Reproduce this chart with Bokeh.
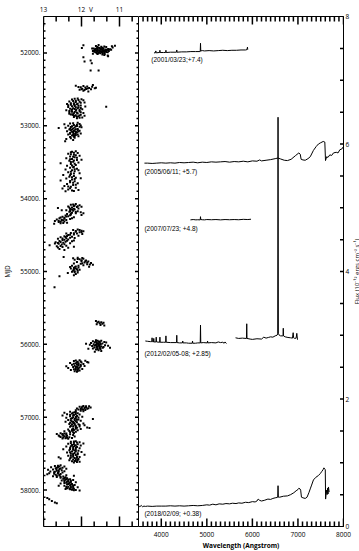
import math
import numpy as np
from bokeh.plotting import figure
from bokeh.models import Range1d, LinearAxis, FixedTicker
from bokeh.layouts import row
from bokeh.embed import file_html
from bokeh.resources import INLINE
from bokeh.core.properties import value

# ---------------- light curve (V magnitude vs MJD), by observing season ----------------
season_2001 = [(51890, 11.55), (51895, 11.95), (51900, 11.12), (51905, 11.62), (51910, 11.20), (51915, 11.48),
               (51920, 11.35), (51925, 11.18), (51928, 11.55), (51932, 11.99), (51935, 11.42), (51938, 11.72),
               (51940, 11.68), (51942, 11.49), (51945, 11.30), (51948, 11.25), (51950, 11.50), (51955, 11.58),
               (51958, 11.22), (51960, 11.45), (51962, 11.38), (51965, 11.57), (51968, 11.62), (51972, 11.52),
               (51975, 11.28), (51980, 11.47), (51985, 11.66), (51987, 11.35), (51990, 11.55), (51995, 11.40),
               (52000, 11.60), (52005, 11.50), (52010, 11.70), (52014, 11.39), (52015, 11.58), (52020, 11.45),
               (52030, 11.40), (52037, 11.31), (52045, 11.30), (52059, 11.95), (52104, 11.76), (52118, 11.92),
               (52141, 11.73), (52240, 11.76), (52242, 11.55),
               (51933, 11.52), (51937, 11.60), (51943, 11.58), (51947, 11.44), (51952, 11.36), (51953, 11.65),
               (51957, 11.48), (51963, 11.53), (51966, 11.42), (51970, 11.67), (51973, 11.41), (51977, 11.59),
               (51978, 11.37), (51983, 11.51), (51988, 11.46), (51992, 11.63), (51997, 11.54), (52002, 11.44),
               (52008, 11.57), (51945, 11.63), (51960, 11.33), (51975, 11.70), (51990, 11.31), (51930, 11.46),
               (51918, 11.58), (51912, 11.40)]
season_2002 = [(52440, 11.70), (52450, 12.15), (52455, 11.95), (52460, 11.85), (52465, 11.72), (52468, 12.08),
               (52470, 12.02), (52475, 11.90), (52478, 11.62), (52480, 11.80), (52485, 11.65), (52488, 11.84),
               (52490, 11.98), (52495, 11.88), (52498, 12.00), (52500, 11.75), (52505, 12.05), (52510, 11.92),
               (52520, 11.95), (52530, 11.82),
               (52625, 12.10), (52635, 12.00), (52640, 12.25), (52650, 11.95), (52655, 12.15), (52665, 12.32),
               (52670, 12.05), (52680, 11.92), (52690, 12.20), (52692, 12.28), (52700, 12.38), (52703, 12.20),
               (52705, 12.12), (52712, 12.28), (52720, 12.02), (52728, 12.18), (52735, 11.90), (52738, 11.35),
               (52742, 12.35), (52750, 12.08), (52758, 12.22), (52760, 12.10), (52765, 12.30), (52772, 11.98),
               (52780, 12.14), (52788, 12.40), (52795, 12.26), (52802, 12.05), (52810, 12.18), (52818, 12.32),
               (52820, 12.12), (52825, 11.95), (52832, 12.10), (52840, 12.24), (52845, 12.28), (52848, 12.02),
               (52855, 12.15), (52862, 11.92), (52870, 12.08), (52878, 12.20), (52885, 11.98), (52895, 12.12),
               (52630, 12.18), (52645, 12.08), (52660, 12.22), (52675, 12.15), (52685, 12.02), (52698, 12.10),
               (52710, 12.18), (52718, 12.35), (52725, 12.08), (52732, 12.25), (52745, 12.15), (52755, 12.02),
               (52768, 12.18), (52775, 12.25), (52785, 12.05), (52792, 12.15), (52798, 12.32), (52808, 12.25),
               (52815, 12.02), (52828, 12.20), (52836, 12.32), (52852, 12.22), (52858, 12.05), (52866, 12.18),
               (52875, 12.12), (52890, 12.05)]
season_2003 = [(52960, 12.10), (52968, 12.30), (52975, 12.05), (52980, 12.45), (52990, 12.20), (52995, 12.02),
               (53000, 12.35), (53002, 12.12), (53008, 12.15), (53015, 12.28), (53020, 12.00), (53028, 12.42),
               (53032, 12.60), (53038, 12.22), (53045, 12.10), (53050, 12.25), (53052, 12.32), (53060, 12.18),
               (53068, 12.05), (53075, 12.38), (53082, 12.25), (53085, 12.15), (53090, 12.12), (53098, 12.30),
               (53105, 12.02), (53112, 12.20), (53120, 12.35), (53128, 12.15), (53135, 12.25), (53145, 12.08),
               (53155, 12.30), (53165, 12.18), (53180, 12.40), (53195, 12.22), (53213, 12.43),
               (52965, 12.22), (52985, 12.12), (53005, 12.25), (53012, 12.05), (53025, 12.18), (53040, 12.30),
               (53048, 12.15), (53058, 12.10), (53065, 12.28), (53072, 12.20), (53080, 12.08), (53095, 12.22),
               (53102, 12.15), (53110, 12.30), (53118, 12.10), (53125, 12.22), (53140, 12.18), (53150, 12.20),
               (53170, 12.28)]
season_2004 = [(53350, 12.15), (53362, 12.28), (53375, 12.10), (53385, 12.35), (53398, 12.20), (53410, 12.05),
               (53420, 12.30), (53432, 12.18), (53445, 12.40), (53455, 12.25), (53465, 12.00), (53468, 12.12),
               (53480, 12.32), (53492, 12.22), (53505, 12.08), (53515, 12.55), (53525, 12.28), (53538, 12.15),
               (53550, 12.38), (53562, 12.20), (53575, 12.30), (53588, 12.12), (53600, 12.42), (53610, 12.08),
               (53612, 12.25), (53625, 12.18), (53638, 12.35), (53650, 12.05), (53662, 12.28), (53675, 12.48),
               (53688, 12.20), (53700, 12.32), (53712, 12.15), (53720, 12.02), (53725, 12.40), (53738, 12.25),
               (53750, 12.55), (53762, 12.18), (53775, 12.30), (53788, 12.10), (53800, 12.38), (53812, 12.22),
               (53825, 12.45), (53838, 12.28), (53850, 12.15), (53862, 12.50), (53875, 12.35), (53880, 12.08),
               (53888, 12.25), (53900, 12.42),
               (53355, 12.25), (53370, 12.20), (53392, 12.28), (53405, 12.15), (53425, 12.22), (53440, 12.12),
               (53460, 12.30), (53475, 12.20), (53498, 12.28), (53520, 12.18), (53545, 12.25), (53570, 12.22),
               (53595, 12.18), (53630, 12.28), (53655, 12.20), (53680, 12.30), (53705, 12.25), (53732, 12.18),
               (53758, 12.30), (53782, 12.22), (53808, 12.15), (53832, 12.35), (53858, 12.30), (53895, 12.20)]
season_2007 = [(54075, 12.15), (54085, 12.28), (54092, 12.05), (54100, 12.20), (54108, 12.35), (54110, 12.00),
               (54115, 12.12), (54122, 12.25), (54130, 12.62), (54135, 12.08), (54142, 12.30), (54150, 12.18),
               (54158, 12.40), (54160, 12.52), (54165, 12.22), (54172, 12.10), (54180, 12.32), (54188, 12.02),
               (54195, 12.25), (54200, 11.95), (54202, 12.15), (54210, 12.38), (54218, 12.28), (54225, 12.00),
               (54232, 12.42), (54240, 12.35), (54248, 12.50), (54255, 12.20), (54262, 12.45), (54268, 12.25),
               (54270, 12.58), (54278, 12.30), (54285, 12.65), (54292, 12.40), (54295, 12.48), (54300, 12.52),
               (54308, 12.70), (54315, 12.45), (54322, 12.60), (54330, 12.38), (54338, 12.55), (54345, 12.72),
               (54080, 12.22), (54095, 12.18), (54105, 12.10), (54120, 12.32), (54138, 12.20), (54148, 12.25),
               (54168, 12.30), (54185, 12.15), (54205, 12.28), (54228, 12.30), (54245, 12.40), (54258, 12.55),
               (54275, 12.45), (54288, 12.52), (54305, 12.60), (54318, 12.55), (54335, 12.48)]
season_2008 = [(54425, 12.10), (54432, 12.22), (54440, 12.00), (54448, 11.95), (54455, 12.15), (54462, 12.05),
               (54470, 12.28), (54478, 12.12), (54480, 12.40), (54485, 11.98), (54492, 12.20), (54500, 12.35),
               (54508, 12.08), (54515, 12.45), (54522, 12.25), (54530, 12.55), (54538, 12.30), (54540, 12.18),
               (54545, 12.40), (54552, 12.62), (54560, 12.35), (54568, 12.50), (54575, 12.20), (54582, 12.58),
               (54585, 12.25), (54590, 12.42), (54598, 12.68), (54605, 12.48), (54612, 12.30), (54615, 12.70),
               (54620, 12.60), (54628, 12.52), (54638, 12.84), (54645, 12.40), (54655, 12.65), (54660, 12.20),
               (54665, 12.50), (54675, 12.35), (54690, 12.58), (54705, 12.45),
               (54430, 12.05), (54445, 12.15), (54458, 12.00), (54475, 12.20), (54495, 12.30), (54512, 12.38),
               (54528, 12.42), (54548, 12.50), (54565, 12.45), (54578, 12.38), (54595, 12.55), (54610, 12.62),
               (54625, 12.45), (54650, 12.55), (54670, 12.62)]
season_2009 = [(54800, 12.47), (54810, 12.10), (54818, 12.22), (54825, 11.95), (54832, 12.05), (54840, 12.18),
               (54848, 11.88), (54855, 12.00), (54862, 11.82), (54870, 12.12), (54878, 11.92), (54885, 11.75),
               (54890, 12.20), (54892, 12.02), (54900, 11.85), (54908, 11.70), (54915, 11.95), (54922, 12.25),
               (54930, 12.15), (54935, 11.80), (54938, 12.30), (54945, 12.08), (54952, 12.20), (54960, 12.28),
               (54968, 12.12), (54975, 12.05), (54985, 12.22), (54995, 12.18), (55005, 12.25), (55015, 12.10),
               (55022, 12.36), (55035, 12.15), (55050, 12.20), (55066, 12.58), (55216, 12.71),
               (54815, 11.98), (54828, 12.10), (54845, 12.00), (54858, 11.90), (54875, 11.85), (54888, 11.98),
               (54905, 11.78), (54920, 12.08), (54942, 12.18), (54958, 12.15), (54972, 12.20), (54990, 12.10),
               (55010, 12.18)]
season_2011 = [(55680, 11.62), (55688, 11.55), (55695, 11.48), (55700, 11.58), (55705, 11.42), (55710, 11.52),
               (55718, 11.45), (55725, 11.60), (55735, 11.50), (55742, 11.40)]
season_2012 = [(55945, 11.62), (55952, 11.48), (55958, 11.70), (55962, 11.55), (55968, 11.40), (55972, 11.65),
               (55975, 11.35), (55978, 11.52), (55982, 11.75), (55988, 11.45), (55990, 11.88), (55992, 11.58),
               (55998, 11.68), (56002, 11.50), (56005, 11.78), (56008, 11.62), (56012, 11.38), (56018, 11.55),
               (56020, 11.30), (56022, 11.72), (56028, 11.48), (56032, 11.60), (56035, 11.42), (56038, 11.52),
               (56042, 11.66), (56045, 11.25), (56048, 11.44), (56052, 11.58), (56058, 11.70), (56060, 11.82),
               (56065, 11.50), (56072, 11.62), (56080, 11.55), (56090, 11.48), (56100, 11.65),
               (55950, 11.58), (55960, 11.62), (55965, 11.52), (55980, 11.60), (55985, 11.56), (55995, 11.50),
               (56000, 11.60), (56010, 11.54), (56015, 11.66), (56025, 11.58), (56030, 11.52), (56040, 11.60),
               (56055, 11.52), (56068, 11.58)]
season_2013 = [(56218, 12.05), (56225, 11.90), (56230, 12.20), (56238, 12.10), (56242, 11.85), (56248, 12.00),
               (56250, 11.82), (56255, 12.30), (56260, 12.15), (56268, 11.95), (56272, 12.08), (56280, 12.25),
               (56285, 12.02), (56292, 12.18), (56298, 11.92), (56300, 12.40), (56305, 12.12), (56312, 12.22),
               (56318, 12.05), (56325, 12.35), (56332, 12.15), (56338, 11.98), (56340, 12.20), (56345, 12.10),
               (56352, 12.28), (56360, 12.05), (56368, 12.18), (56375, 12.12),
               (56222, 12.15), (56235, 12.02), (56245, 12.12), (56258, 12.08), (56265, 12.20), (56278, 12.12),
               (56290, 12.08), (56302, 12.02), (56310, 12.15), (56322, 12.10), (56335, 12.08), (56350, 12.15),
               (56365, 12.10)]
season_2014_16 = [(56845, 11.95), (56850, 11.80), (56855, 12.05), (56860, 11.88), (56865, 11.76), (56870, 12.00),
                  (56875, 11.92), (56880, 12.12), (56885, 11.85), (56890, 11.98), (56895, 12.08), (56900, 11.90),
                  (56905, 12.15), (56912, 12.02), (56918, 11.95),
                  (56848, 11.88), (56858, 11.98), (56868, 11.90), (56878, 11.82), (56888, 12.02), (56898, 11.95),
                  (56925, 12.30), (56932, 12.18), (56938, 12.45), (56945, 12.10), (56950, 12.25), (56958, 12.38),
                  (56962, 12.05), (56970, 12.20), (56975, 12.50), (56982, 12.12), (56988, 12.30), (56995, 11.98),
                  (57000, 12.22), (57008, 12.40), (57012, 12.15), (57020, 12.28), (57026, 11.70), (57030, 12.08),
                  (57038, 12.35), (57042, 12.18), (57050, 12.02), (57058, 12.25), (57062, 12.42), (57070, 12.12),
                  (57078, 12.20), (57085, 11.95), (57092, 12.32), (57098, 12.08), (57105, 12.18), (57112, 11.92),
                  (57120, 12.28), (57128, 12.05), (57135, 12.15), (57140, 11.85), (57148, 11.79), (57155, 12.22),
                  (57162, 12.02), (57170, 12.35), (57178, 12.10), (57185, 12.25), (57192, 12.45), (57200, 12.15),
                  (57208, 12.30), (57215, 12.20),
                  (56928, 12.15), (56940, 12.22), (56955, 12.15), (56965, 12.30), (56978, 12.22), (56992, 12.15),
                  (57005, 12.08), (57015, 12.25), (57025, 12.18), (57035, 12.12), (57045, 12.28), (57055, 12.15),
                  (57065, 12.22), (57075, 12.30), (57088, 12.18), (57095, 12.25), (57108, 12.05), (57118, 12.15),
                  (57125, 12.22), (57132, 12.30), (57145, 12.12), (57158, 12.15), (57168, 12.25), (57175, 12.20),
                  (57190, 12.32), (57205, 12.22),
                  (57220, 12.55), (57225, 12.40), (57230, 12.65), (57235, 12.30), (57240, 12.50), (57245, 12.22),
                  (57250, 12.60), (57255, 12.38), (57260, 12.45), (57265, 12.18), (57270, 12.55), (57275, 12.32),
                  (57280, 12.48), (57285, 12.25), (57290, 12.42), (57295, 12.35),
                  (57222, 12.45), (57232, 12.50), (57242, 12.40), (57252, 12.48), (57262, 12.58), (57272, 12.40),
                  (57282, 12.38), (57292, 12.50),
                  (57330, 12.15), (57338, 12.28), (57345, 12.05), (57352, 12.20), (57360, 11.95), (57365, 12.35),
                  (57372, 12.10), (57380, 12.25), (57388, 12.02), (57395, 12.18), (57402, 12.40), (57410, 12.12),
                  (57418, 12.30), (57425, 12.05), (57432, 12.22), (57440, 12.48), (57448, 12.15), (57455, 12.32),
                  (57462, 12.08), (57470, 12.25), (57478, 12.00), (57485, 12.38), (57492, 12.18), (57500, 12.28),
                  (57508, 12.10), (57515, 11.92), (57522, 12.22), (57530, 12.35), (57538, 12.12), (57545, 12.05),
                  (57550, 12.60), (57552, 12.28), (57560, 12.18), (57568, 12.55), (57575, 12.08), (57582, 12.22),
                  (57590, 12.32), (57598, 12.15), (57605, 12.25), (57612, 12.05), (57620, 12.20),
                  (57335, 12.20), (57348, 12.12), (57358, 12.28), (57370, 12.20), (57385, 12.15), (57398, 12.28),
                  (57408, 12.22), (57422, 12.15), (57435, 12.30), (57445, 12.22), (57458, 12.18), (57468, 12.15),
                  (57480, 12.30), (57495, 12.10), (57505, 12.22), (57518, 12.15), (57528, 12.28), (57542, 12.22),
                  (57555, 12.12), (57565, 12.30), (57578, 12.15), (57588, 12.10), (57602, 12.18), (57615, 12.12)]
season_2017_18 = [(57660, 12.55), (57668, 12.70), (57675, 12.45), (57682, 12.62), (57688, 12.80), (57695, 12.50),
                  (57700, 12.68), (57708, 12.40), (57712, 12.58), (57718, 12.75), (57722, 12.88), (57728, 12.52),
                  (57735, 12.65), (57740, 12.45), (57745, 12.82), (57750, 12.60), (57755, 12.72), (57760, 12.50),
                  (57768, 12.85), (57772, 12.62), (57778, 12.55), (57782, 12.90), (57790, 12.68), (57795, 12.40),
                  (57800, 12.58), (57805, 12.20), (57810, 12.75), (57815, 12.48), (57820, 12.65), (57825, 12.42),
                  (57832, 12.55), (57838, 12.38), (57845, 12.48), (57850, 12.30), (57858, 12.42), (57862, 12.22),
                  (57868, 12.52), (57875, 12.35), (57880, 12.45), (57888, 12.28), (57892, 12.15), (57898, 12.40),
                  (57905, 12.32), (57910, 12.55), (57918, 12.25), (57922, 12.38), (57930, 12.18), (57935, 12.30),
                  (57940, 12.60), (57942, 12.45), (57948, 12.22), (57955, 12.35), (57962, 12.10), (57968, 12.28),
                  (57975, 12.38), (57982, 12.20), (57985, 12.42), (57990, 12.30), (57998, 12.15), (58005, 12.05),
                  (57665, 12.62), (57678, 12.58), (57692, 12.65), (57705, 12.55), (57715, 12.66), (57732, 12.60),
                  (57748, 12.70), (57762, 12.62), (57775, 12.72), (57788, 12.58), (57802, 12.65), (57818, 12.55),
                  (57835, 12.45), (57848, 12.40), (57855, 12.35), (57865, 12.45), (57872, 12.28), (57885, 12.38),
                  (57895, 12.32), (57902, 12.45), (57915, 12.35), (57925, 12.28), (57938, 12.22), (57952, 12.28),
                  (57958, 12.40), (57972, 12.22), (57978, 12.32), (57995, 12.25), (58002, 12.20),
                  (58110, 12.90), (58125, 12.85), (58150, 12.78), (58170, 12.70), (58180, 12.65)]

mjd_ticks = [52000, 53000, 54000, 55000, 56000, 57000, 58000]
mjd_tick_labels = ["52000.", "53000.", "54000.", "55000.", "56000.", "57000.", "58000."]
v_ticks = [13, 12, 11]
v_tick_labels = ["13", "12", "11"]

# ---------------- spectra: wavelength (A) and flux (1e-12 erg/cm2/s), plotted with offsets ----------------
spec_2001_wave = [3840, 3870, 3880, 3890, 3950, 3965, 3970, 3975, 4050, 4096, 4102, 4108, 4200, 4334, 4340, 4346,
                  4450, 4550, 4650, 4750, 4830, 4855, 4861, 4867, 4900, 4950, 5050, 5150, 5250, 5350, 5450, 5550,
                  5650, 5750, 5850, 5880, 5892, 5898]
spec_2001_flux = [0.03, 0.03, 0.06, 0.03, 0.035, 0.035, 0.07, 0.035, 0.035, 0.035, 0.07, 0.035, 0.04, 0.04, 0.075,
                  0.04, 0.045, 0.045, 0.05, 0.05, 0.05, 0.05, 0.18, 0.06, 0.065, 0.06, 0.065, 0.06, 0.065, 0.07,
                  0.065, 0.07, 0.07, 0.075, 0.075, 0.08, 0.12, 0.08]
spec_2005_wave = [3630, 3700, 3800, 3900, 4000, 4100, 4200, 4300, 4400, 4500, 4600, 4700, 4800, 4900, 5000, 5100,
                  5200, 5300, 5400, 5500, 5600, 5700, 5800, 5900, 6000, 6100, 6160, 6200, 6300, 6400, 6500, 6560,
                  6620, 6700, 6770, 6850, 6950, 7020, 7050, 7070, 7110, 7160, 7220, 7270, 7340, 7400, 7450, 7500,
                  7555, 7590, 7605, 7630, 7660, 7700, 7740, 7780, 7840, 7880, 7920, 7960, 8000]
spec_2005_flux = [0.00, 0.00, -0.005, 0.00, 0.005, 0.00, 0.005, 0.00, 0.01, 0.005, 0.01, 0.015, 0.005, 0.015, 0.01,
                  0.02, 0.015, 0.02, 0.025, 0.015, 0.025, 0.02, 0.03, 0.02, 0.035, 0.03, 0.05, 0.035, 0.045, 0.055,
                  0.07, 0.08, 0.065, 0.045, 0.04, 0.06, 0.12, 0.16, 0.14, 0.06, 0.05, 0.045, 0.07, 0.10, 0.20, 0.26,
                  0.30, 0.32, 0.34, 0.33, 0.04, 0.10, 0.09, 0.13, 0.12, 0.16, 0.17, 0.16, 0.21, 0.22, 0.26]
spec_2007_wave = [4640, 4700, 4760, 4800, 4850, 4855, 4861, 4867, 4900, 4950, 5000, 5100, 5200, 5300, 5400, 5500,
                  5600, 5700, 5800, 5900, 5970]
spec_2007_flux = [0.01, 0.015, 0.01, 0.012, 0.01, 0.01, 0.06, 0.015, 0.012, 0.01, 0.015, 0.012, 0.015, 0.01, 0.015,
                  0.012, 0.015, 0.012, 0.018, 0.015, 0.02]
spec_2012a_wave = [3650, 3700, 3760, 3792, 3798, 3804, 3829, 3835, 3841, 3883, 3889, 3895, 3964, 3970, 3976, 4050,
                   4096, 4102, 4108, 4200, 4334, 4340, 4346, 4400, 4465, 4471, 4477, 4550, 4600, 4680, 4686, 4692,
                   4750, 4800, 4855, 4861, 4867, 4920, 5010, 5016, 5022, 5100, 5200, 5250, 5300, 5350, 5380, 5400,
                   5430]
spec_2012a_flux = [0.06, 0.055, 0.05, 0.05, 0.11, 0.05, 0.045, 0.10, 0.045, 0.045, 0.12, 0.045, 0.04, 0.12, 0.04,
                   0.04, 0.04, 0.14, 0.04, 0.035, 0.035, 0.15, 0.035, 0.03, 0.03, 0.06, 0.03, 0.03, 0.025, 0.025,
                   0.06, 0.025, 0.025, 0.03, 0.03, 0.31, 0.03, 0.035, 0.03, 0.06, 0.03, 0.035, 0.03, 0.045, 0.035,
                   0.04, 0.025, 0.045, 0.02]
spec_2012b_wave = [5630, 5700, 5780, 5860, 5870, 5876, 5882, 5950, 6000, 6100, 6200, 6250, 6300, 6350, 6400, 6450,
                   6500, 6540, 6556, 6563, 6570, 6590, 6620, 6660, 6673, 6678, 6683, 6720, 6780, 6840, 6880, 6895,
                   6905, 6930, 6960, 6975, 6990]
spec_2012b_flux = [0.11, 0.10, 0.105, 0.10, 0.10, 0.33, 0.10, 0.09, 0.085, 0.095, 0.09, 0.12, 0.105, 0.115, 0.125,
                   0.12, 0.14, 0.15, 0.17, 3.57, 0.18, 0.15, 0.14, 0.14, 0.14, 0.26, 0.14, 0.125, 0.115, 0.11,
                   0.105, 0.19, 0.11, 0.10, 0.105, 0.18, 0.08]
spec_2018_wave = [3500, 3530, 3560, 3590, 3620, 3650, 3700, 3800, 3900, 4000, 4100, 4200, 4300, 4400, 4500, 4600,
                  4700, 4800, 4900, 5000, 5060, 5130, 5200, 5270, 5350, 5420, 5500, 5560, 5640, 5700, 5770, 5850,
                  5920, 6000, 6060, 6100, 6127, 6160, 6200, 6260, 6340, 6400, 6450, 6500, 6540, 6556, 6563, 6570,
                  6600, 6680, 6770, 6840, 6910, 6960, 7000, 7020, 7045, 7060, 7077, 7110, 7160, 7200, 7240, 7270,
                  7300, 7340, 7390, 7450, 7490, 7520, 7550, 7570, 7590, 7600, 7607, 7625, 7640, 7650, 7660, 7670,
                  7685]
spec_2018_flux = [-0.05, -0.07, -0.05, -0.07, -0.06, -0.065, -0.06, -0.065, -0.06, -0.06, -0.06, -0.055, -0.06,
                  -0.055, -0.06, -0.055, -0.05, -0.055, -0.05, -0.04, -0.045, -0.03, -0.04, -0.025, -0.03, -0.02,
                  -0.025, -0.015, -0.02, -0.01, -0.015, 0.00, -0.005, 0.01, 0.005, 0.02, 0.05, 0.03, 0.02, 0.03,
                  0.05, 0.045, 0.06, 0.07, 0.075, 0.08, 0.26, 0.08, 0.08, 0.095, 0.10, 0.12, 0.15, 0.18, 0.20,
                  0.22, 0.21, 0.19, 0.08, 0.07, 0.06, 0.08, 0.15, 0.21, 0.27, 0.35, 0.39, 0.42, 0.45, 0.48, 0.51,
                  0.54, 0.52, 0.51, 0.05, 0.19, 0.12, 0.22, 0.13, 0.24, 0.16]

spec_offsets = [7.4, 5.7, 4.8, 2.85, 0.38]
spec_labels = ["(2001/03/23;+7.4)", "(2005/06/11; +5.7)", "(2007/07/23; +4.8)",
               "(2012/02/05-08; +2.85)", "(2018/02/09; +0.38)"]
wave_ticks = [4000, 5000, 6000, 7000, 8000]
flux_ticks = [0, 2, 4, 6, 8]
flux_title = "Flux (10\u207b\u00b9\u00b2 ergs cm\u207b\u00b2 s\u207b\u00b9)"

# ---------------- styling / geometry ----------------
FONT = "Open Sans"
LFONT = "Liberation Sans"
FS = "6.5px"
TOP, BOTTOM = 16, 24
FH = 510            # frame height (px)
FW1, FW2 = 95, 205  # frame widths (px)
LEFT1, W3 = 39, 9
TICK_W = 1.5

V_RANGE = (13, 10.5)
MJD_RANGE = (51500, 58500)
W_RANGE = (3500, 8000)
F_RANGE = (0, 8)


def base_axis(ax, labels=True, standoff=3):
    ax.axis_line_color = "black"
    ax.axis_line_width = 1
    ax.major_tick_in = 0
    ax.major_tick_out = 0
    ax.minor_tick_in = 0
    ax.minor_tick_out = 0
    ax.major_tick_line_color = None
    ax.minor_tick_line_color = None
    ax.major_label_text_font = FONT
    if labels:
        ax.major_label_text_font_size = FS
        ax.major_label_standoff = standoff
        ax.major_label_text_color = "black"
    else:
        ax.major_label_text_font_size = "0px"
        ax.major_label_standoff = 0
        ax.major_label_text_color = None
    ax.axis_label_text_font = FONT
    ax.axis_label_text_font_style = "normal"
    ax.axis_label_text_color = "black"
    ax.axis_label_text_font_size = FS


def tick_lists(segments):
    xs = [[x0, x1] for x0, y0, x1, y1 in segments]
    ys = [[y0, y1] for x0, y0, x1, y1 in segments]
    return xs, ys


# ---- left panel: light curve ----
p1 = figure(frame_width=FW1, frame_height=FH, x_range=Range1d(*V_RANGE), y_range=Range1d(MJD_RANGE[1], MJD_RANGE[0]),
            x_axis_location=None, y_axis_location=None, toolbar_location=None, output_backend="svg",
            min_border_left=LEFT1, min_border_right=0, min_border_top=TOP, min_border_bottom=BOTTOM)
p1.xgrid.visible = False
p1.ygrid.visible = False
p1.outline_line_color = None

v_title_pos = 11.75
ax = LinearAxis(ticker=FixedTicker(ticks=v_ticks + [v_title_pos]),
                major_label_overrides={**{t: l for t, l in zip(v_ticks, v_tick_labels)}, v_title_pos: "V"})
base_axis(ax, labels=True, standoff=3)
p1.add_layout(ax, "above")
ax = LinearAxis(ticker=FixedTicker(ticks=v_ticks))
base_axis(ax, labels=False)
p1.add_layout(ax, "below")
ax = LinearAxis(ticker=FixedTicker(ticks=mjd_ticks),
                major_label_overrides={t: l for t, l in zip(mjd_ticks, mjd_tick_labels)},
                axis_label="MJD")
base_axis(ax, labels=True, standoff=3)
ax.axis_label_standoff = 5
p1.add_layout(ax, "left")

# inward tick marks (pixel lengths converted to data units through the frame scale)
v_pp = (V_RANGE[0] - V_RANGE[1]) / FW1
m_pp = (MJD_RANGE[1] - MJD_RANGE[0]) / FH
v_minor = [13 - k / 3 for k in range(0, 8) if k % 3 != 0]
mjd_minor = [m for m in range(51600, 58500, 100) if m % 1000 != 0]
segs = []
for vals, L in ((v_ticks, 10), (v_minor, 5)):
    for v in vals:
        segs.append((v, MJD_RANGE[0], v, MJD_RANGE[0] + L * m_pp))
        segs.append((v, MJD_RANGE[1], v, MJD_RANGE[1] - L * m_pp))
for vals, L in ((mjd_ticks, 3.5), (mjd_minor, 2)):
    for m in vals:
        segs.append((V_RANGE[0], m, V_RANGE[0] - L * v_pp, m))
        segs.append((V_RANGE[1], m, V_RANGE[1] + L * v_pp, m))
txs, tys = tick_lists(segs)
p1.multi_line(xs=txs, ys=tys, line_color="black", line_width=TICK_W)

all_points = (season_2001 + season_2002 + season_2003 + season_2004 + season_2007 + season_2008 +
              season_2009 + season_2011 + season_2012 + season_2013 + season_2014_16 + season_2017_18)
mjd = [m for m, v in all_points]
vmag = [v for m, v in all_points]
p1.scatter(x=vmag, y=mjd, marker="square", size=2, fill_color="black", line_color=None)

# ---- right panel: spectra ----
p2 = figure(frame_width=FW2, frame_height=FH, x_range=Range1d(*W_RANGE), y_range=Range1d(*F_RANGE),
            x_axis_location=None, y_axis_location=None, toolbar_location=None, output_backend="svg",
            min_border_left=0, min_border_right=0, min_border_top=TOP, min_border_bottom=BOTTOM)
p2.xgrid.visible = False
p2.ygrid.visible = False
p2.outline_line_color = "black"
p2.outline_line_width = 1

ax = LinearAxis(ticker=FixedTicker(ticks=wave_ticks), axis_label="Wavelength (Angstrom)")
base_axis(ax, labels=True, standoff=5)
ax.axis_label_text_font_style = "bold"
ax.axis_label_standoff = 1
p2.add_layout(ax, "below")
ax = LinearAxis(ticker=FixedTicker(ticks=flux_ticks))
base_axis(ax, labels=True, standoff=2)
p2.add_layout(ax, "right")

w_pp = (W_RANGE[1] - W_RANGE[0]) / FW2
f_pp = (F_RANGE[1] - F_RANGE[0]) / FH
w_minor = [w for w in range(3600, 8000, 100) if w % 1000 != 0]
f_all = [k * 0.5 for k in range(1, 16)]
segs = []
for vals, L in ((wave_ticks, 8), (w_minor, 5)):
    for w in vals:
        segs.append((w, F_RANGE[0], w, F_RANGE[0] + L * f_pp))
        segs.append((w, F_RANGE[1], w, F_RANGE[1] - L * f_pp))
for f in f_all:
    segs.append((W_RANGE[1], f, W_RANGE[1] - 3.5 * w_pp, f))
sxs, sys_ = tick_lists(segs)
p2.multi_line(xs=sxs, ys=sys_, line_color="black", line_width=TICK_W)

spectra = [
    ([spec_2001_wave], [spec_2001_flux], 0),
    ([spec_2005_wave], [spec_2005_flux], 1),
    ([spec_2007_wave], [spec_2007_flux], 2),
    ([spec_2012a_wave, spec_2012b_wave], [spec_2012a_flux, spec_2012b_flux], 3),
    ([spec_2018_wave], [spec_2018_flux], 4),
]
for waves, fluxes, i in spectra:
    for w, f in zip(waves, fluxes):
        n = min(len(w), len(f))
        p2.line(w[:n], [fv + spec_offsets[i] for fv in f[:n]], line_color="black", line_width=1)

# label anchor positions (wavelength, flux) for the spectrum annotations
label_x = [3780, 3630, 3630, 3630, 3630]
label_y = [7.33, 5.57, 4.67, 2.71, 0.21]
p2.text(x=label_x, y=label_y, text=spec_labels, text_font=value(LFONT), text_font_size=FS,
        text_align="left", text_baseline="middle", text_color="black")

# ---- narrow strip holding the flux axis title, reading bottom-to-top ----
p3 = figure(frame_width=W3, frame_height=FH, x_range=Range1d(0, 1), y_range=Range1d(*F_RANGE),
            x_axis_location=None, y_axis_location=None, toolbar_location=None, output_backend="svg",
            min_border_left=0, min_border_right=0, min_border_top=TOP, min_border_bottom=BOTTOM)
p3.xgrid.visible = False
p3.ygrid.visible = False
p3.outline_line_color = None
p3.text(x=[0.45], y=[(F_RANGE[0] + F_RANGE[1]) / 2], text=[flux_title], angle=math.pi / 2,
        text_font=value(FONT), text_font_size="6px", text_align="center", text_baseline="middle",
        text_color="black")

layout = row(p1, p2, p3, spacing=0)
open("out.html", "w").write(file_html(layout, INLINE))
